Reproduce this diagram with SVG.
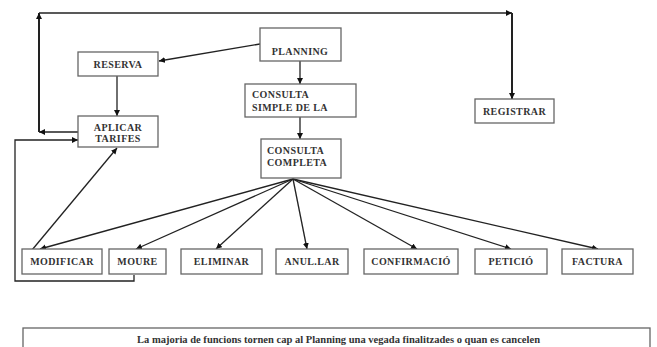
<svg xmlns="http://www.w3.org/2000/svg" width="657" height="347" viewBox="0 0 657 347">
<style>
.box{fill:#fff;stroke:#666;stroke-width:1.3}
.lbl{font-family:"Liberation Serif","DejaVu Serif",serif;font-weight:bold;font-size:10px;fill:#333;letter-spacing:0.4px}
.c{text-anchor:middle}
.ln{stroke:#222;stroke-width:1.3;fill:none}
.thk{stroke:#222;stroke-width:2;fill:none}
.note{font-family:"Liberation Serif","DejaVu Serif",serif;font-weight:bold;font-size:9.5px;fill:#333}
</style>
<defs>
<marker id="ah" markerUnits="userSpaceOnUse" markerWidth="7" markerHeight="7" refX="6" refY="3" orient="auto">
<path d="M0,0 L6,3 L0,6 z" fill="#111"/>
</marker>
</defs>
<rect width="657" height="347" fill="#fff"/>
<g id="connectors">
<line class="ln" x1="78" y1="132" x2="39" y2="132" marker-end="url(#ah)"/>
<line class="thk" x1="39" y1="132" x2="39" y2="13" marker-end="url(#ah)"/>
<line class="ln" x1="39" y1="13" x2="512" y2="13" marker-end="url(#ah)"/>
<line class="thk" x1="512" y1="13" x2="512" y2="99" marker-end="url(#ah)"/>
<line class="ln" x1="260" y1="44" x2="159" y2="61" marker-end="url(#ah)"/>
<line class="ln" x1="117" y1="76" x2="117" y2="116" marker-end="url(#ah)"/>
<line class="ln" x1="300" y1="61" x2="300" y2="84" marker-end="url(#ah)"/>
<line class="ln" x1="300" y1="117" x2="300" y2="139" marker-end="url(#ah)"/>
<path class="ln" d="M134 275 V281 H15 V140 H78" marker-end="url(#ah)"/>
<line class="ln" x1="32" y1="250" x2="117" y2="148" marker-end="url(#ah)"/>
<line class="ln" x1="293" y1="179" x2="40" y2="249" marker-end="url(#ah)"/>
<line class="ln" x1="293" y1="179" x2="136" y2="249" marker-end="url(#ah)"/>
<line class="ln" x1="293" y1="179" x2="216" y2="249" marker-end="url(#ah)"/>
<line class="ln" x1="293" y1="179" x2="307" y2="249" marker-end="url(#ah)"/>
<line class="ln" x1="293" y1="179" x2="417" y2="249" marker-end="url(#ah)"/>
<line class="ln" x1="293" y1="179" x2="511" y2="249" marker-end="url(#ah)"/>
<line class="ln" x1="293" y1="179" x2="598" y2="249" marker-end="url(#ah)"/>
</g>
<g id="planning"><rect class="box" x="260" y="28" width="81" height="33"/><text class="lbl c" x="300" y="54.5">PLANNING</text></g>
<g id="reserva"><rect class="box" x="78" y="52" width="80" height="24"/><text class="lbl c" x="118" y="68">RESERVA</text></g>
<g id="aplicar"><rect class="box" x="78" y="116" width="80" height="31"/><text class="lbl c" x="118" y="130.5">APLICAR</text><text class="lbl c" x="118" y="142">TARIFES</text></g>
<g id="consulta-simple"><rect class="box" x="245" y="84" width="111" height="33"/><text class="lbl" x="252" y="98">CONSULTA</text><text class="lbl" x="252" y="111">SIMPLE DE LA</text></g>
<g id="consulta-completa"><rect class="box" x="261" y="139" width="80" height="39"/><text class="lbl" x="267" y="154">CONSULTA</text><text class="lbl" x="267" y="166">COMPLETA</text></g>
<g id="registrar"><rect class="box" x="475" y="99" width="79" height="24"/><text class="lbl c" x="514.5" y="114.5">REGISTRAR</text></g>
<g id="modificar"><rect class="box" x="22" y="249" width="80" height="25"/><text class="lbl c" x="62" y="265">MODIFICAR</text></g>
<g id="moure"><rect class="box" x="109" y="249" width="57" height="25"/><text class="lbl c" x="137.5" y="265">MOURE</text></g>
<g id="eliminar"><rect class="box" x="181" y="249" width="81" height="25"/><text class="lbl c" x="221.5" y="265">ELIMINAR</text></g>
<g id="anullar"><rect class="box" x="276" y="249" width="72" height="25"/><text class="lbl c" x="312" y="265">ANUL.LAR</text></g>
<g id="confirmacio"><rect class="box" x="364" y="249" width="94" height="25"/><text class="lbl c" x="411" y="265">CONFIRMACIÓ</text></g>
<g id="peticio"><rect class="box" x="475" y="249" width="72" height="25"/><text class="lbl c" x="511" y="265">PETICIÓ</text></g>
<g id="factura"><rect class="box" x="562" y="249" width="71" height="25"/><text class="lbl c" x="597.5" y="265">FACTURA</text></g>
<g id="nota"><rect class="box" x="23" y="328" width="627" height="30"/><text class="note" x="137" y="342.5" textLength="403" lengthAdjust="spacingAndGlyphs">La majoria de funcions tornen cap al Planning una vegada finalitzades o quan es cancelen</text></g>
</svg>
